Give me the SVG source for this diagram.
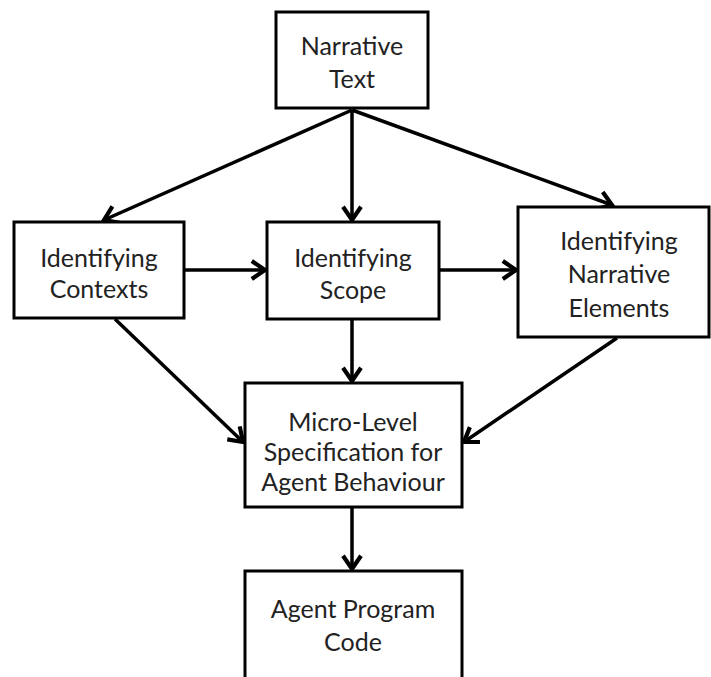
<svg xmlns="http://www.w3.org/2000/svg" width="711" height="677" viewBox="0 0 711 677">
<style>
.box{fill:#fff;stroke:#000;stroke-width:3}
.t{font-family:Lato,"Open Sans","Liberation Sans",sans-serif;font-size:25px;fill:#222;text-anchor:middle}
.c{stroke:#000;stroke-width:3.5;fill:none;marker-end:url(#ah)}
</style>
<defs>
<marker id="ah" markerUnits="userSpaceOnUse" markerWidth="24" markerHeight="24" viewBox="-14 -10 16 20" refX="0" refY="0" orient="auto">
<path d="M-11,-7.5 L0,0 L-11,7.5" fill="none" stroke="#000" stroke-width="3.5" stroke-linejoin="miter"/>
</marker>
</defs>
<rect width="711" height="677" fill="#fff"/>
<g id="connectors">
<line class="c" x1="352" y1="110" x2="104" y2="220"/>
<line class="c" x1="352" y1="110" x2="352" y2="220"/>
<line class="c" x1="352" y1="110" x2="612" y2="205"/>
<line class="c" x1="185" y1="270" x2="265" y2="270"/>
<line class="c" x1="440" y1="270" x2="516" y2="270"/>
<line class="c" x1="115" y1="319" x2="243" y2="442"/>
<line class="c" x1="352" y1="320" x2="352" y2="381"/>
<line class="c" x1="617" y1="338" x2="464" y2="442"/>
<line class="c" x1="352" y1="508" x2="352" y2="569"/>
</g>
<g id="narrative-text">
<rect class="box" x="276" y="12" width="152" height="96"/>
<text class="t" x="352" y="55">Narrative</text>
<text class="t" x="352" y="88">Text</text>
</g>
<g id="identifying-contexts">
<rect class="box" x="14" y="222" width="170" height="96"/>
<text class="t" x="99" y="267">Identifying</text>
<text class="t" x="99" y="298">Contexts</text>
</g>
<g id="identifying-scope">
<rect class="box" x="267" y="222" width="172" height="97"/>
<text class="t" x="353" y="267">Identifying</text>
<text class="t" x="353" y="299">Scope</text>
</g>
<g id="identifying-narrative-elements">
<rect class="box" x="518" y="207" width="191" height="130"/>
<text class="t" x="619" y="250">Identifying</text>
<text class="t" x="619" y="283">Narrative</text>
<text class="t" x="619" y="317">Elements</text>
</g>
<g id="micro-level">
<rect class="box" x="245" y="383" width="217" height="124"/>
<text class="t" x="353" y="431">Micro-Level</text>
<text class="t" x="353" y="461">Specification for</text>
<text class="t" x="353" y="491">Agent Behaviour</text>
</g>
<g id="agent-program-code">
<rect class="box" x="245" y="571" width="217" height="112"/>
<text class="t" x="353" y="618">Agent Program</text>
<text class="t" x="353" y="651">Code</text>
</g>
</svg>
